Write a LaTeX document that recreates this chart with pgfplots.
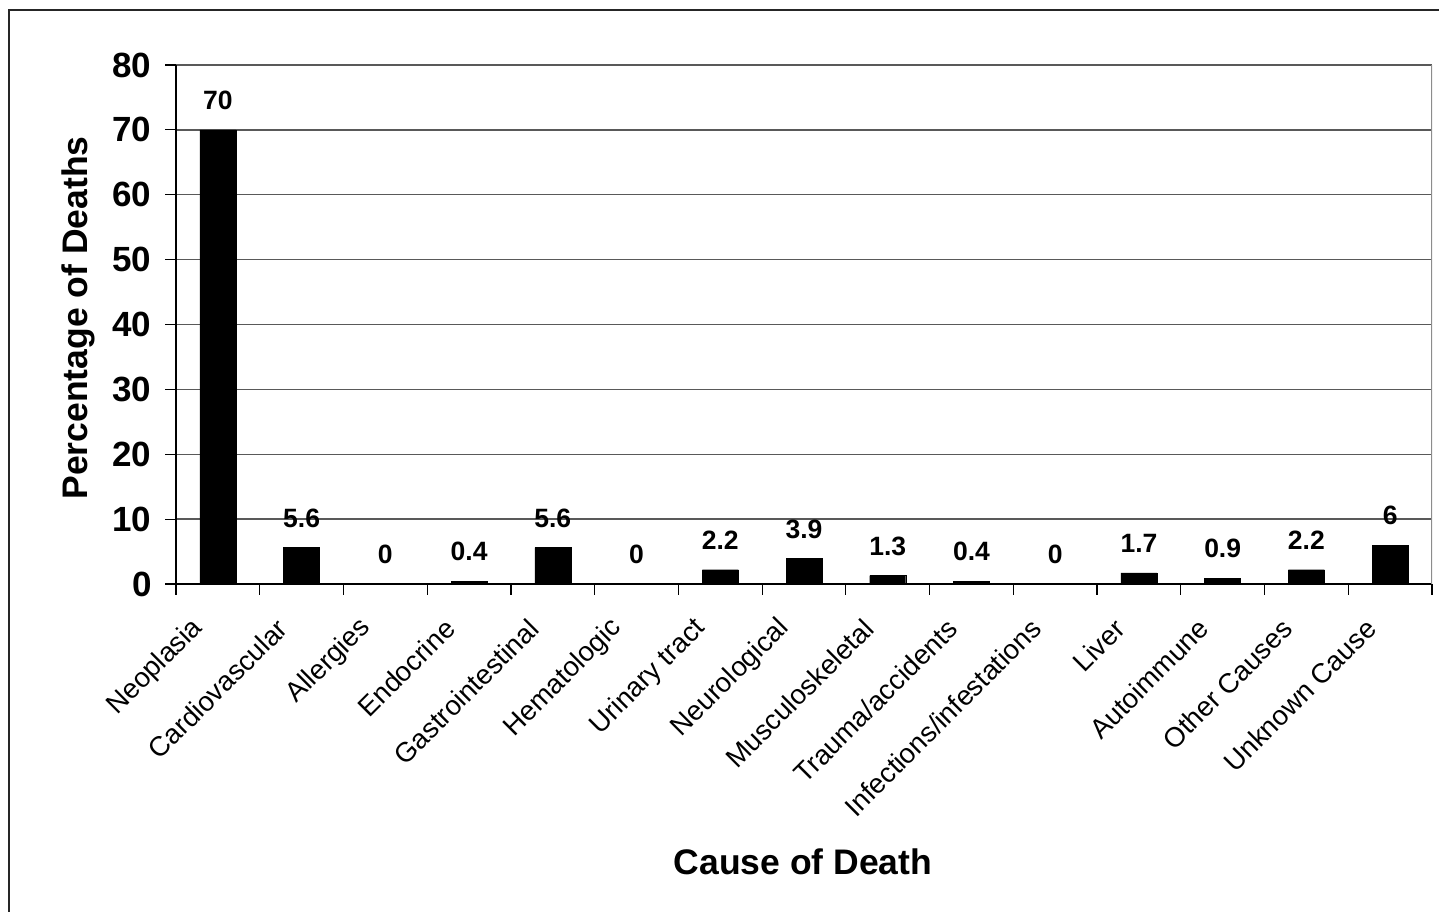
\documentclass[border=0pt]{standalone}
\usepackage{fontspec}
\setmainfont{Liberation Sans}
\usepackage{pgfplots}
\pgfplotsset{compat=1.18}
\begin{document}
\begin{tikzpicture}[x=1pt,y=1pt]
\path[use as bounding box] (0,0) rectangle (1439,912);
\draw[line width=2.5pt, black!85] (9,-5) -- (9,902) -- (1445,902);
\begin{axis}[
  at={(176pt,328pt)}, anchor=south west,
  width=1256pt, height=519pt, scale only axis,
  xmin=-0.5, xmax=14.5, ymin=0, ymax=80,
  ytick={0,10,...,80},
  xtick={-0.5,0.5,...,14.5},
  x tick label as interval,
  xticklabels={Neoplasia,Cardiovascular,Allergies,Endocrine,Gastrointestinal,Hematologic,Urinary tract,Neurological,Musculoskeletal,Trauma/accidents,Infections/infestations,Liver,Autoimmune,Other Causes,Unknown Cause},
  axis x line*=bottom, axis y line*=left,
  axis line style={black, line width=1.4pt},
  tick align=outside, major tick length=11pt,
  tick style={black, line width=1.2pt},
  ymajorgrids, major grid style={black!65, line width=1.3pt},
  /pgf/number format/assume math mode=true,
  yticklabel style={font=\bfseries\fontsize{35}{35}\selectfont, xshift=-10pt},
  xticklabel style={font=\fontsize{27.5}{27.5}\selectfont, inner sep=0pt, xshift=-19pt, yshift=-29pt, rotate=45, anchor=east},
  xlabel={Cause of Death}, ylabel={Percentage of Deaths},
  label style={font=\bfseries\fontsize{35.5}{40}\selectfont},
  xlabel style={at={(axis description cs:0.4992,-0.5356)}, anchor=center},
  ylabel style={at={(axis description cs:-0.078,0.5125)}, anchor=center},
  ybar, bar width=36pt,
  nodes near coords,
  nodes near coords style={font=\bfseries\fontsize{26.5}{26.5}\selectfont, inner sep=0pt, yshift=20pt, anchor=south},
]
\addplot[fill=black, draw=black] coordinates {
  (0,70) (1,5.6) (2,0) (3,0.4) (4,5.6) (5,0) (6,2.2) (7,3.9)
  (8,1.3) (9,0.4) (10,0) (11,1.7) (12,0.9) (13,2.2) (14,6)};
\draw[black!45, line width=1.5pt] (rel axis cs:1,0) -- (rel axis cs:1,1);
\end{axis}
\end{tikzpicture}
\end{document}
